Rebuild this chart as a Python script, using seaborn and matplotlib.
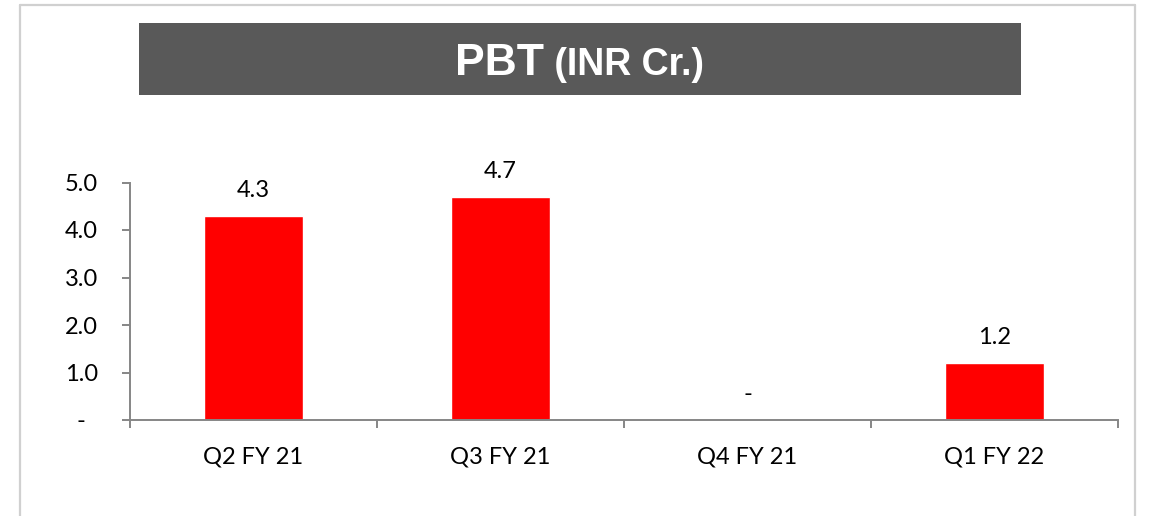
import matplotlib
matplotlib.use("Agg")
import matplotlib.pyplot as plt
from matplotlib.lines import Line2D
from matplotlib.patches import Rectangle
from matplotlib.ticker import FixedLocator
import pandas as pd
import seaborn as sns

# -----------------------------
# Data
# -----------------------------
quarters = ["Q2 FY 21", "Q3 FY 21", "Q4 FY 21", "Q1 FY 22"]
pbt_values = [4.3, 4.7, 0.0, 1.2]
y_ticks = [0, 1, 2, 3, 4, 5]

df = pd.DataFrame({"Quarter": quarters, "PBT": pbt_values})

# -----------------------------
# Style
# -----------------------------
sns.set_style("white")
plt.rcParams["font.family"] = ["Lato", "DejaVu Sans"]

W, H, DPI = 1153, 516, 100
fig = plt.figure(figsize=(W / DPI, H / DPI), dpi=DPI)
fig.patch.set_facecolor("white")

# plot area in pixels: x 130..1118, y 182.5..420
ax = fig.add_axes([130 / W, (H - 420) / H, 988 / W, 237.5 / H])

sns.barplot(data=df, x="Quarter", y="PBT", color="#ff0000", width=0.4,
            saturation=1, ax=ax)

ax.set_xlim(-0.5, len(quarters) - 0.5)
ax.set_ylim(0, 5)
ax.set_xlabel("")
ax.set_ylabel("")

axis_grey = "#868686"
for side in ["top", "right"]:
    ax.spines[side].set_visible(False)
for side in ["left", "bottom"]:
    ax.spines[side].set_color(axis_grey)
    ax.spines[side].set_linewidth(1.4)

font_size = 17

# y ticks
ax.set_yticks(y_ticks)
ax.set_yticklabels(["-  " if v == 0 else f"{v:.1f}" for v in y_ticks])
ax.tick_params(axis="y", direction="out", length=6, width=1.4,
               color=axis_grey, pad=17, labelsize=font_size, labelcolor="black",
               left=True)

# x ticks: labels at centres, tick marks at category borders
ax.tick_params(axis="x", which="major", length=0, pad=19, labelsize=font_size,
               labelcolor="black")
ax.xaxis.set_minor_locator(FixedLocator([i - 0.5 for i in range(len(quarters) + 1)]))
ax.tick_params(axis="x", which="minor", direction="out", length=6, width=1.4,
               color=axis_grey, bottom=True)

# value labels
labels = ["-" if v == 0 else f"{v:.1f}" for v in pbt_values]
ax.bar_label(ax.containers[0], labels=labels, padding=10.5, fontsize=font_size,
             color="black")

# -----------------------------
# Title box
# -----------------------------
fig.add_artist(Rectangle((139 / W, (H - 95) / H), 882 / W, 72 / H,
                         transform=fig.transFigure, facecolor="#595959",
                         edgecolor="none"))

title_y = (H - 75) / H
t1 = fig.text(0, title_y, "PBT", fontsize=32, fontweight="bold", color="white",
              family=["Liberation Sans", "DejaVu Sans"], va="baseline")
t2 = fig.text(0, title_y, " (INR Cr.)", fontsize=27, fontweight="bold",
              color="white", family=["Liberation Sans", "DejaVu Sans"],
              va="baseline")
fig.canvas.draw()
r = fig.canvas.get_renderer()
w1 = t1.get_window_extent(r).width
w2 = t2.get_window_extent(r).width
x0 = 580 - (w1 + w2) / 2
t1.set_x(x0 / W)
t2.set_x((x0 + w1) / W)

# -----------------------------
# Outer frame
# -----------------------------
frame_col = "#d0d0d0"
fig.add_artist(Line2D([19.5 / W, 19.5 / W], [0, (H - 4.5) / H], color=frame_col,
                      lw=1.6, transform=fig.transFigure))
fig.add_artist(Line2D([1134.5 / W, 1134.5 / W], [0, (H - 4.5) / H], color=frame_col,
                      lw=1.6, transform=fig.transFigure))
fig.add_artist(Line2D([19.5 / W, 1134.5 / W], [(H - 4.5) / H, (H - 4.5) / H],
                      color=frame_col, lw=1.6, transform=fig.transFigure))

fig.savefig("out.png", dpi=DPI)
